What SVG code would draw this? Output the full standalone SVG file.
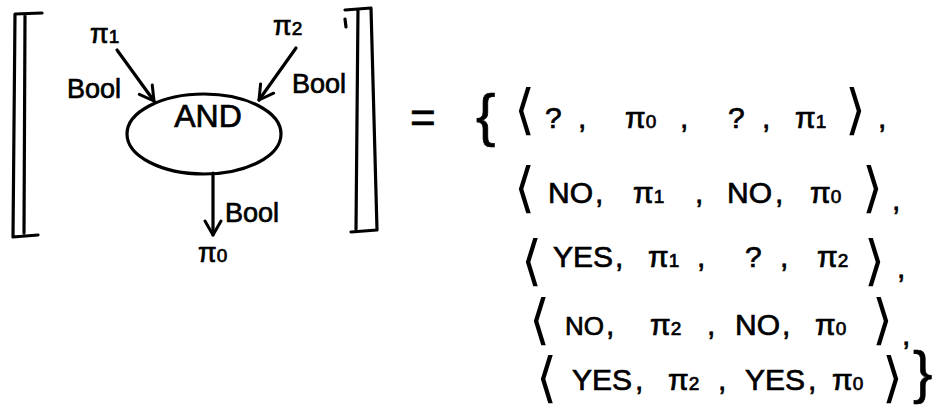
<svg xmlns="http://www.w3.org/2000/svg" width="951" height="412" viewBox="0 0 951 412">
<defs>
<marker id="arr" markerUnits="userSpaceOnUse" markerWidth="20" markerHeight="20" viewBox="0 0 20 20" refX="18" refY="10" orient="auto">
<path d="M4,2 L18,10 L4,18" fill="none" stroke="#000" stroke-width="3" stroke-linecap="round" stroke-linejoin="round"/>
</marker>
<style>
.t{font-family:"Liberation Sans","DejaVu Sans",sans-serif;fill:#000;stroke:#000;stroke-width:0.7}
.lbl{font-size:27px}
.row{font-size:30px}
.sub{font-size:19px}
.ang{font-family:"DejaVu Sans",sans-serif;font-size:54px;stroke-width:0}
.br{fill:none;stroke:#000;stroke-width:3.2;stroke-linecap:round;stroke-linejoin:round}
.edge{fill:none;stroke:#000;stroke-width:3.2;stroke-linecap:round;marker-end:url(#arr)}
</style>
</defs>
<rect width="951" height="412" fill="#fff"/>

<g id="semantic-brackets">
<path class="br" d="M42,13 L15,14 L13,237 L38,235 M25,15 L24,233"/>
<path class="br" d="M345,10 L371,8 L377,230 L351,232 M358,9 L356,229"/>
<path class="br" d="M345,19 L346,27" stroke-width="2.5"/>
</g>

<g id="connectors">
<path class="edge" d="M117,50 L154,101"/>
<path class="edge" d="M296,48 L259,100"/>
<path class="edge" d="M213,173 L213,235"/>
</g>

<g id="node-pi1"><text class="t lbl" x="90" y="43">π<tspan class="sub">1</tspan></text></g>
<g id="node-pi2"><text class="t lbl" x="273" y="35">π<tspan class="sub">2</tspan></text></g>
<g id="node-and">
<ellipse cx="204" cy="134" rx="77" ry="40" fill="none" stroke="#000" stroke-width="3.2"/>
<text class="t" x="208" y="127" font-size="32" text-anchor="middle">AND</text>
</g>
<g id="node-pi0"><text class="t lbl" x="198" y="262">π<tspan class="sub">0</tspan></text></g>

<g id="edge-labels">
<text class="t lbl" x="67" y="98" font-size="26">Bool</text>
<text class="t lbl" x="292" y="93">Bool</text>
<text class="t lbl" x="225" y="222">Bool</text>
</g>

<g id="equation">
<text class="t" x="410" y="133" font-size="44">=</text>
<text class="t" x="476" y="135" font-size="58">{</text>

<text class="t row"><tspan class="ang" x="514" y="128" font-size="46">⟨</tspan><tspan x="545" y="128">?</tspan><tspan x="578" y="128">,</tspan><tspan x="625" y="128">π</tspan><tspan class="sub">0</tspan><tspan x="680" y="128">,</tspan><tspan x="728" y="128">?</tspan><tspan x="762" y="128">,</tspan><tspan x="795" y="128">π</tspan><tspan class="sub">1</tspan><tspan class="ang" x="845" y="128" font-size="46">⟩</tspan><tspan x="878" y="128">,</tspan></text>

<text class="t row"><tspan class="ang" x="514" y="206" font-size="58">⟨</tspan><tspan x="548" y="203">NO</tspan><tspan x="595" y="203">,</tspan><tspan x="633" y="203">π</tspan><tspan class="sub">1</tspan><tspan x="695" y="203">,</tspan><tspan x="727" y="203">NO</tspan><tspan x="775" y="203">,</tspan><tspan x="810" y="203">π</tspan><tspan class="sub">0</tspan><tspan class="ang" x="862" y="206" font-size="58">⟩</tspan><tspan x="892" y="210">,</tspan></text>

<text class="t row"><tspan class="ang" x="521" y="279" font-size="56">⟨</tspan><tspan x="553" y="267">YES</tspan><tspan x="615" y="267">,</tspan><tspan x="648" y="267">π</tspan><tspan class="sub">1</tspan><tspan x="697" y="267">,</tspan><tspan x="745" y="267">?</tspan><tspan x="780" y="267">,</tspan><tspan x="817" y="267">π</tspan><tspan class="sub">2</tspan><tspan class="ang" x="864" y="279" font-size="56">⟩</tspan><tspan x="897" y="278">,</tspan></text>

<text class="t row"><tspan class="ang" x="529" y="338">⟨</tspan><tspan x="565" y="335" font-size="26">NO</tspan><tspan x="606" y="335">,</tspan><tspan x="650" y="335">π</tspan><tspan class="sub">2</tspan><tspan x="707" y="335">,</tspan><tspan x="735" y="335">NO</tspan><tspan x="782" y="335">,</tspan><tspan x="815" y="335">π</tspan><tspan class="sub">0</tspan><tspan class="ang" x="872" y="338">⟩</tspan><tspan x="902" y="345">,</tspan></text>

<text class="t row"><tspan class="ang" x="536" y="396">⟨</tspan><tspan x="572" y="390">YES</tspan><tspan x="635" y="390">,</tspan><tspan x="668" y="390">π</tspan><tspan class="sub">2</tspan><tspan x="718" y="390">,</tspan><tspan x="745" y="390">YES</tspan><tspan x="808" y="390">,</tspan><tspan x="832" y="390">π</tspan><tspan class="sub">0</tspan><tspan class="ang" x="882" y="396">⟩</tspan></text>
<text class="t" x="913" y="392" font-size="58">}</text>
</g>
</svg>
